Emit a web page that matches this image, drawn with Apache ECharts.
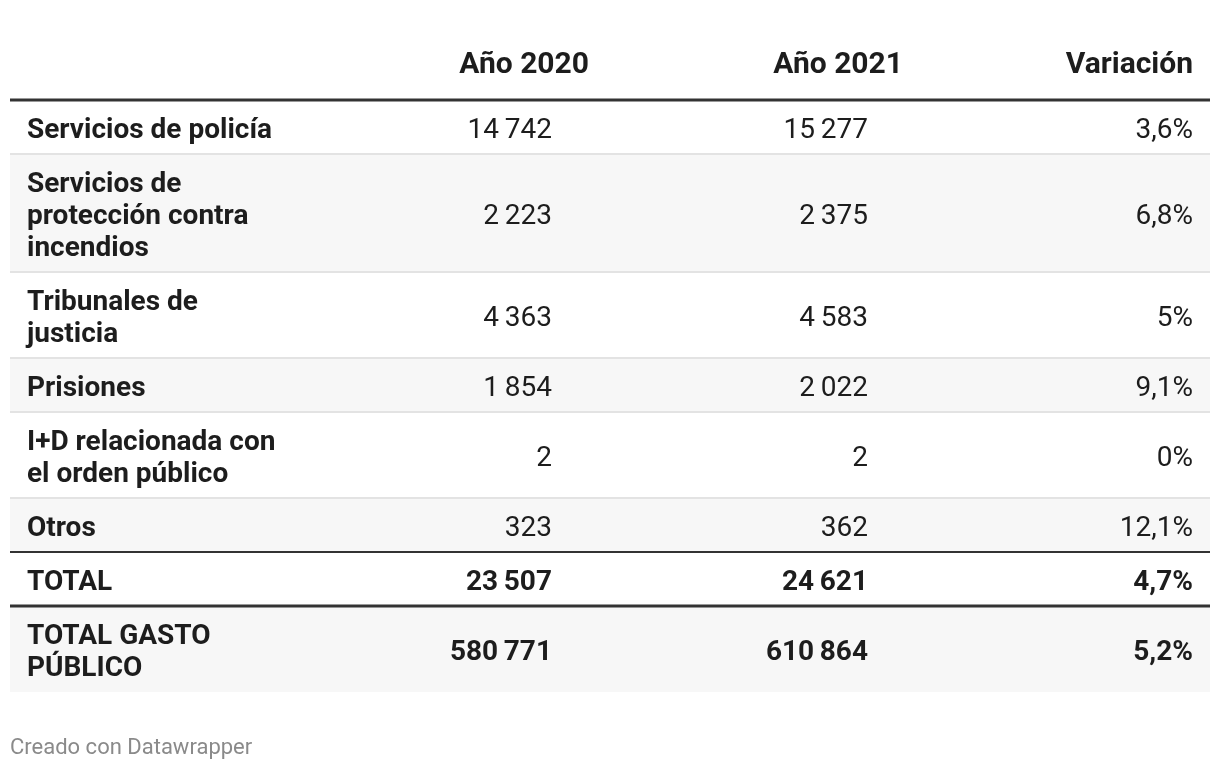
<!DOCTYPE html>
<html>
<head>
<meta charset="utf-8">
<script src="https://cdn.jsdelivr.net/npm/echarts@6/dist/echarts.min.js"></script>
<style>
html,body{margin:0;padding:0;background:#fff;}
#chart{width:1220px;height:770px;}
</style>
</head>
<body>
<div id="chart"></div>
<script>
// ---- Data ----
var headers = ['', 'Año 2020', 'Año 2021', 'Variación'];
var categories = [
  'Servicios de policía',
  'Servicios de\nprotección contra\nincendios',
  'Tribunales de\njusticia',
  'Prisiones',
  'I+D relacionada con\nel orden público',
  'Otros',
  'TOTAL',
  'TOTAL GASTO\nPÚBLICO'
];
var values2020 = [14742, 2223, 4363, 1854, 2, 323, 23507, 580771];
var values2021 = [15277, 2375, 4583, 2022, 2, 362, 24621, 610864];
var variation = [3.6, 6.8, 5, 9.1, 0, 12.1, 4.7, 5.2];
var boldRows = [false, false, false, false, false, false, true, true];
var footer = 'Creado con Datawrapper';

// ---- Formatting ----
function fmtNum(v) {
  var s = String(Math.round(v));
  return s.replace(/\B(?=(\d{3})+(?!\d))/g, '\u2009');
}
function fmtPct(v) {
  return String(v).replace('.', ',') + '%';
}

// ---- Layout ----
var FONT = 'Roboto, "Open Sans", sans-serif';
var TEXT = '#1d1d1d';
var left = 10, right = 1210;
var labelX = 27;
var colRightNum = [552, 868, 1193];
var colRightHead = [589, 903, 1193];
var lineH = 32;
var fs = 28;

var g = [];
// header
for (var h = 1; h < headers.length; h++) {
  g.push({type: 'text', x: colRightHead[h - 1], y: 65, style: {
    text: headers[h], fill: TEXT, font: 'bold 30px ' + FONT,
    textAlign: 'right', textVerticalAlign: 'middle'}});
}

var y = 100;
var rowLines = [];
for (var i = 0; i < categories.length; i++) {
  var nLines = categories[i].split('\n').length;
  var hgt = 22 + lineH * nLines;
  if (i % 2 === 1) {
    g.push({type: 'rect', shape: {x: left, y: y, width: right - left, height: hgt}, style: {fill: '#f7f7f7'}, z: 0});
  }
  var cy = y + hgt / 2 + 4;
  g.push({type: 'text', x: labelX, y: cy, style: {
    text: categories[i], fill: TEXT, font: 'bold ' + fs + 'px ' + FONT,
    lineHeight: lineH, textAlign: 'left', textVerticalAlign: 'middle'}, z: 2});
  var weight = boldRows[i] ? 'bold ' : '';
  var vals = [fmtNum(values2020[i]), fmtNum(values2021[i]), fmtPct(variation[i])];
  for (var c = 0; c < 3; c++) {
    g.push({type: 'text', x: colRightNum[c], y: cy, style: {
      text: vals[c], fill: TEXT, font: weight + fs + 'px ' + FONT,
      textAlign: 'right', textVerticalAlign: 'middle'}, z: 2});
  }
  y += hgt;
  rowLines.push(y);
}

// separators
for (var k = 0; k < rowLines.length - 1; k++) {
  var yy = rowLines[k];
  var isTotalTop = (k === 5);
  var isThick = (k === 6);
  g.push({type: 'line', shape: {x1: left, y1: yy, x2: right, y2: yy},
    style: {stroke: (isThick || isTotalTop) ? '#333333' : '#e3e3e3', lineWidth: isThick ? 3 : 2}, z: 3});
}
// top header line
g.push({type: 'line', shape: {x1: left, y1: 100, x2: right, y2: 100}, style: {stroke: '#333333', lineWidth: 3}, z: 3});

// footer
g.push({type: 'text', x: 10, y: 748, style: {text: footer, fill: '#8a8a8a', font: '22px ' + FONT, textAlign: 'left', textVerticalAlign: 'middle'}});

var chart = echarts.init(document.getElementById('chart'), null, {renderer: 'canvas'});
chart.setOption({
  backgroundColor: '#ffffff',
  animation: false,
  graphic: {elements: g}
});
</script>
</body>
</html>
